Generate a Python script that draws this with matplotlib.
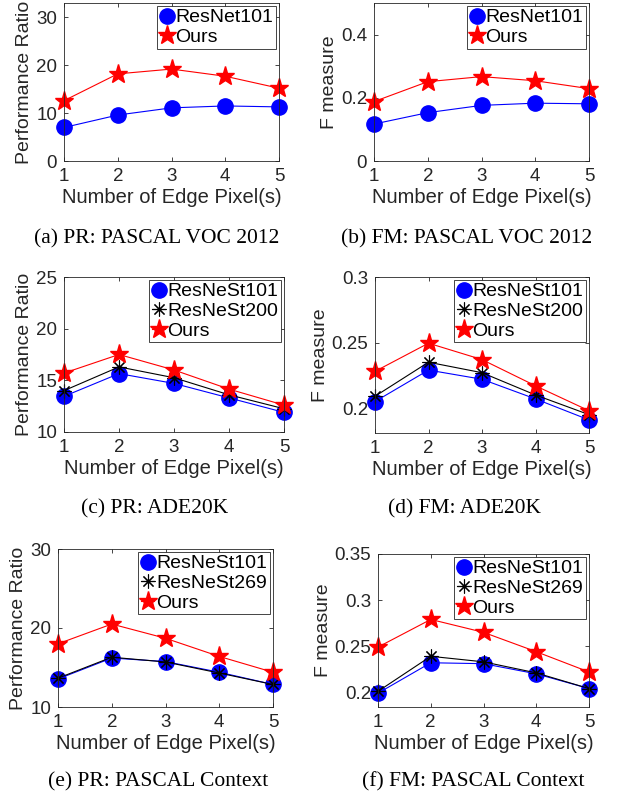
import numpy as np
import matplotlib
matplotlib.use("Agg")
import matplotlib.pyplot as plt

plt.rcParams['font.family'] = ['Liberation Sans', 'DejaVu Sans']
plt.rcParams['axes.edgecolor'] = '#262626'
plt.rcParams['xtick.color'] = '#262626'
plt.rcParams['ytick.color'] = '#262626'
plt.rcParams['text.color'] = '#262626'
plt.rcParams['axes.labelcolor'] = '#262626'

edge_px = [1, 2, 3, 4, 5]

# (a) PR: PASCAL VOC 2012
pr_voc_resnet101 = [7.0, 9.6, 11.1, 11.5, 11.3]
pr_voc_ours = [12.6, 18.2, 19.2, 17.7, 15.2]
# (b) FM: PASCAL VOC 2012
fm_voc_resnet101 = [0.117, 0.153, 0.176, 0.183, 0.181]
fm_voc_ours = [0.188, 0.251, 0.267, 0.254, 0.229]
# (c) PR: ADE20K
pr_ade_resnest101 = [13.45, 15.65, 14.7, 13.3, 11.9]
pr_ade_resnest200 = [14.0, 16.3, 15.25, 13.6, 12.25]
pr_ade_ours = [15.7, 17.5, 16.0, 14.15, 12.6]
# (d) FM: ADE20K
fm_ade_resnest101 = [0.205, 0.229, 0.222, 0.207, 0.191]
fm_ade_resnest200 = [0.209, 0.235, 0.227, 0.210, 0.195]
fm_ade_ours = [0.228, 0.2495, 0.237, 0.217, 0.198]
# (e) PR: PASCAL Context
pr_ctx_resnest101 = [13.55, 16.2, 15.75, 14.4, 12.85]
pr_ctx_resnest269 = [13.65, 16.3, 15.7, 14.3, 12.85]
pr_ctx_ours = [18.0, 20.5, 18.7, 16.4, 14.4]
# (f) FM: PASCAL Context
fm_ctx_resnest101 = [0.199, 0.232, 0.231, 0.220, 0.204]
fm_ctx_resnest269 = [0.201, 0.239, 0.233, 0.221, 0.204]
fm_ctx_ours = [0.249, 0.279, 0.265, 0.244, 0.222]

W, H = 617, 801
fig = plt.figure(figsize=(W / 100, H / 100), dpi=100)


def box(x0, y0, x1, y1):
    return [x0 / W, 1 - y1 / H, (x1 - x0) / W, (y1 - y0) / H]


asterisk = (8, 2, 0)


def panel(rect, series, ylim, yticks, ylabel, caption, cap_xy):
    ax = fig.add_axes(box(*rect))
    for vals, label, style in series:
        if style == 'blue':
            ax.plot(edge_px, vals, '-', color='blue', lw=0.8, marker='o',
                    ms=11, mfc='blue', mec='blue', label=label, clip_on=False)
        elif style == 'black':
            ax.plot(edge_px, vals, '-', color='black', lw=0.8, marker=asterisk,
                    ms=10, mec='black', mew=0.8, label=label, clip_on=False)
        else:
            ax.plot(edge_px, vals, '-', color='red', lw=0.8, marker='*',
                    ms=14, mfc='red', mec='red', label=label, clip_on=False)
    ax.set_xlim(1, 5)
    ax.set_ylim(*ylim)
    ax.set_xticks(edge_px)
    ax.set_yticks(yticks)
    ax.set_yticklabels(['%g' % t for t in yticks])
    ax.tick_params(direction='in', length=3, width=0.6, labelsize=13.5,
                   top=True, right=True, pad=5)
    for s in ax.spines.values():
        s.set_linewidth(0.6)
    ax.set_xlabel('Number of Edge Pixel(s)', fontsize=14.5, labelpad=2)
    ax.set_ylabel(ylabel, fontsize=14, labelpad=2)
    leg = ax.legend(loc='upper right', fontsize=14, handlelength=0.7,
                    handletextpad=0.1, borderpad=0.15, labelspacing=0.1,
                    borderaxespad=0.15, fancybox=False, framealpha=1,
                    edgecolor='#262626')
    leg.get_frame().set_linewidth(0.6)
    for t in leg.get_texts():
        t.set_color('black')
    fig.text(cap_xy[0] / W, 1 - cap_xy[1] / H, caption, ha='center',
             va='center', fontsize=15.5, family='Liberation Serif', color='black')
    return ax


panel((64, 3, 279, 161),
      [(pr_voc_resnet101, 'ResNet101', 'blue'), (pr_voc_ours, 'Ours', 'red')],
      (0, 33), [0, 10, 20, 30], 'Performance Ratio',
      '(a) PR: PASCAL VOC 2012', (157, 239))
panel((374, 3, 589, 161),
      [(fm_voc_resnet101, 'ResNet101', 'blue'), (fm_voc_ours, 'Ours', 'red')],
      (0, 0.5), [0, 0.2, 0.4], 'F measure',
      '(b) FM: PASCAL VOC 2012', (467, 239))
panel((64, 277, 284, 432),
      [(pr_ade_resnest101, 'ResNeSt101', 'blue'),
       (pr_ade_resnest200, 'ResNeSt200', 'black'),
       (pr_ade_ours, 'Ours', 'red')],
      (10, 25), [10, 15, 20, 25], 'Performance Ratio',
      '(c) PR: ADE20K', (155, 509))
panel((375, 277, 589, 433),
      [(fm_ade_resnest101, 'ResNeSt101', 'blue'),
       (fm_ade_resnest200, 'ResNeSt200', 'black'),
       (fm_ade_ours, 'Ours', 'red')],
      (0.181, 0.3), [0.2, 0.25, 0.3], 'F measure',
      '(d) FM: ADE20K', (465, 509))
panel((58, 549, 273, 707),
      [(pr_ctx_resnest101, 'ResNeSt101', 'blue'),
       (pr_ctx_resnest269, 'ResNeSt269', 'black'),
       (pr_ctx_ours, 'Ours', 'red')],
      (10, 30), [10, 20, 30], 'Performance Ratio',
      '(e) PR: PASCAL Context', (158, 782))
panel((378, 554, 589, 707),
      [(fm_ctx_resnest101, 'ResNeSt101', 'blue'),
       (fm_ctx_resnest269, 'ResNeSt269', 'black'),
       (fm_ctx_ours, 'Ours', 'red')],
      (0.184, 0.35), [0.2, 0.25, 0.3, 0.35], 'F measure',
      '(f) FM: PASCAL Context', (473, 782))

fig.savefig('out.png', dpi=100)
